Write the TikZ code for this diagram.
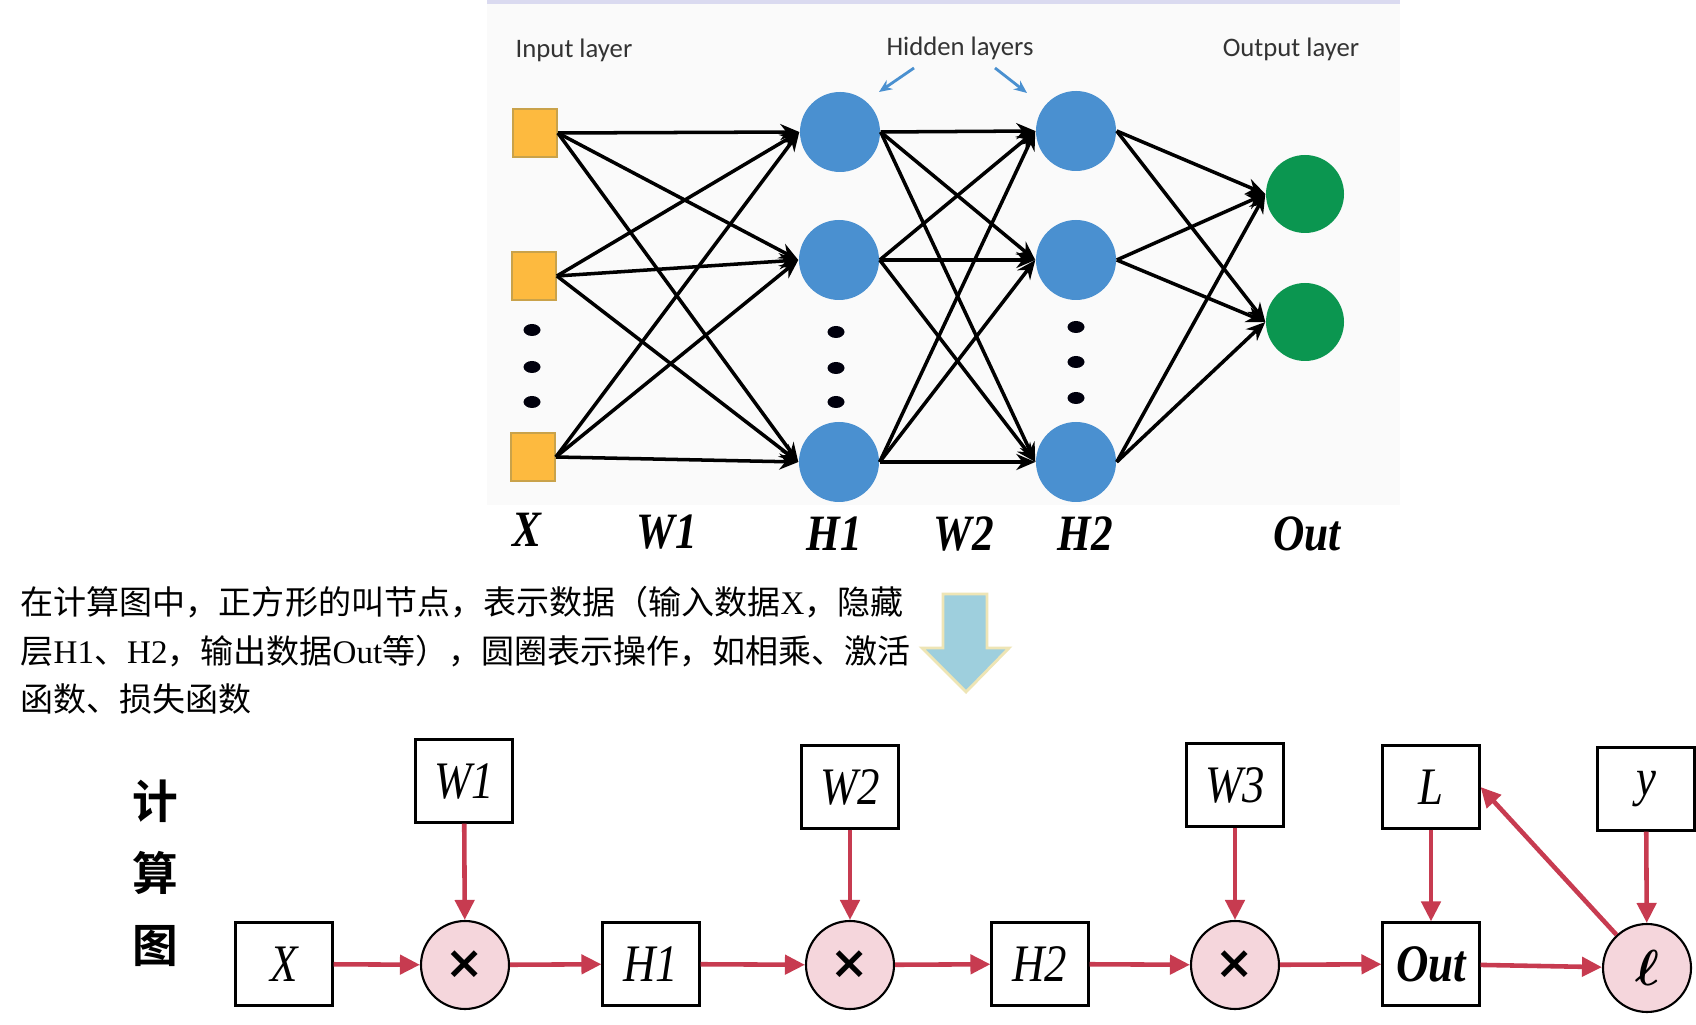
\documentclass[tikz,border=0pt]{standalone}
\usepackage{fontspec}
\usepackage{graphicx}
\usepackage{bm}
\setmainfont{Liberation Serif}
\newfontfamily\cjk{Noto Sans CJK SC}[BoldFont={Noto Sans CJK SC Bold}]
\newfontfamily\calib{Carlito}
\newfontfamily\symb{DejaVu Sans}
\usetikzlibrary{arrows.meta}

\definecolor{sqfill}{RGB}{253,186,63}
\definecolor{sqedge}{RGB}{201,162,74}
\definecolor{hidblue}{RGB}{74,144,208}
\definecolor{outgreen}{RGB}{11,150,80}
\definecolor{flowred}{RGB}{199,59,80}
\definecolor{opfill}{RGB}{245,214,220}
\definecolor{bigarrow}{RGB}{158,207,221}
\definecolor{bigedge}{RGB}{238,229,181}
\definecolor{topline}{RGB}{218,218,240}

\newcommand{\cond}[1]{\scalebox{0.85}[1]{#1}}

\tikzset{
  inp/.style={draw=sqedge, fill=sqfill, line width=0.5pt, minimum width=4.4mm, minimum height=4.8mm, inner sep=0},
  hid/.style={circle, fill=hidblue, minimum size=8mm, inner sep=0},
  outn/.style={circle, fill=outgreen, minimum size=7.8mm, inner sep=0},
  net/.style={line width=1pt, -{Stealth[length=1.9mm,width=1.6mm]}},
  laylbl/.style={font=\calib\fontsize{7.6}{8}\selectfont, text=black!80},
  varlbl/.style={font=\fontsize{14.5}{14.5}\selectfont\bfseries\itshape},
  box/.style={draw, line width=0.6pt, minimum width=9.7mm, minimum height=8.3mm, inner sep=0, font=\fontsize{15}{15}\selectfont\itshape},
  op/.style={circle, draw, line width=0.6pt, fill=opfill, minimum size=8.8mm, inner sep=0},
  flow/.style={draw=flowred, line width=1.3pt, -{Triangle[length=2mm,width=1.9mm]}}
}

\begin{document}
\begin{tikzpicture}[x=0.1mm, y=-0.1mm]

\fill[white] (0,0) rectangle (1696,1025);
\useasboundingbox (0,0) rectangle (1696,1025);

% network picture
\fill[black!2] (487,4) rectangle (1400,505);
\draw[topline, line width=1pt] (487,2) -- (1400,2);

% layer titles
\node[laylbl] (tin) at (574,50) {Input layer};
\node[laylbl] (thid) at (960,48) {Hidden layers};
\node[laylbl] (tout) at (1291,49) {Output layer};
\coordinate (ptl) at (914,68);
\coordinate (ptr) at (995,68);
\coordinate (hl1) at (879,92);
\coordinate (hl2) at (1027,93);
\draw[hidblue, line width=0.8pt, -{Stealth[length=1.3mm,width=1.1mm]}] (ptl) -- (hl1);
\draw[hidblue, line width=0.8pt, -{Stealth[length=1.3mm,width=1.1mm]}] (ptr) -- (hl2);

% input squares
\node[inp] (in1) at (535,133) {};
\node[inp] (in2) at (534,276) {};
\node[inp] (in3) at (533,457) {};

% hidden layers
\node[hid] (ha1) at (840,132) {};
\node[hid] (ha2) at (839,260) {};
\node[hid] (ha3) at (839,462) {};
\node[hid] (hb1) at (1076,131) {};
\node[hid] (hb2) at (1076,260) {};
\node[hid] (hb3) at (1076,462) {};

% output layer
\node[outn] (o1) at (1305,194) {};
\node[outn] (o2) at (1305,322) {};

% dots
\foreach \y in {330,367,402} \fill[black!95!blue] (532,\y) ellipse (0.85mm and 0.6mm);
\foreach \y in {332,368,402} \fill[black!95!blue] (836,\y) ellipse (0.85mm and 0.6mm);
\foreach \y in {327,362,398} \fill[black!95!blue] (1076,\y) ellipse (0.85mm and 0.6mm);

% connections
\foreach \i in {1,2,3}
  \foreach \j in {1,2,3}
    \draw[net] (in\i.east) -- (ha\j.west);
\foreach \i in {1,2,3}
  \foreach \j in {1,2,3}
    \draw[net] (ha\i.east) -- (hb\j.west);
\foreach \i in {1,2,3}
  \foreach \j in {1,2}
    \draw[net] (hb\i.east) -- (o\j.west);

% names under the network
\node[varlbl] (nX) at (527,530) {\cond{X}};
\node[varlbl] (nW1) at (667,532) {\cond{W1}};
\node[varlbl] (nH1) at (834,534) {\cond{H1}};
\node[varlbl] (nW2) at (964,534) {\cond{W2}};
\node[varlbl] (nH2) at (1085,534) {\cond{H2}};
\node[varlbl] (nOut) at (1307,534) {\cond{Out}};

% explanation
\node[anchor=north west, inner sep=0, align=left, font=\cjk\fontsize{9.4}{13.7}\selectfont] (note) at (20,586)
  {在计算图中，正方形的叫节点，表示数据（输入数据{\rmfamily X}，隐藏\\
   层{\rmfamily H1}、{\rmfamily H2}，输出数据{\rmfamily Out}等），圆圈表示操作，如相乘、激活\\
   函数、损失函数};

% big arrow
\draw[bigedge, fill=bigarrow, line width=0.8pt, line join=miter]
  (943,594) -- (987,594) -- (987,648) -- (1009,648) -- (966,692) -- (922,648) -- (943,648) -- cycle;

% computation graph
\node[font=\cjk\bfseries\fontsize{13}{20.5}\selectfont, align=center] (title) at (155,873) {计\\算\\图};

\node[box] (X) at (284,964) {\cond{X}};
\node[box] (W1) at (464,781) {\cond{W1}};
\node[op] (m1) at (465,965) {\symb\bfseries\fontsize{13}{13}\selectfont ×};
\node[box] (H1) at (651,964) {\cond{H1}};
\node[box] (W2) at (850,787) {\cond{W2}};
\node[op] (m2) at (850,965) {\symb\bfseries\fontsize{13}{13}\selectfont ×};
\node[box] (H2) at (1040,964) {\cond{H2}};
\node[box] (W3) at (1235,785) {\cond{W3}};
\node[op] (m3) at (1235,965) {\symb\bfseries\fontsize{13}{13}\selectfont ×};
\node[box] (Out) at (1431,964) {\cond{\bfseries Out}};
\node[box] (L) at (1431,787) {\cond{L}};
\node[box] (y) at (1646,789) {\cond{y}};
\node[op] (ell) at (1647,968) {\fontsize{15}{15}\selectfont$\bm{\ell}$};

\draw[flow] (X) -- (m1);
\draw[flow] (m1) -- (H1);
\draw[flow] (H1) -- (m2);
\draw[flow] (m2) -- (H2);
\draw[flow] (H2) -- (m3);
\draw[flow] (m3) -- (Out);
\draw[flow] (Out) -- (ell);
\draw[flow] (W1) -- (m1);
\draw[flow] (W2) -- (m2);
\draw[flow] (W3) -- (m3);
\draw[flow] (L) -- (Out);
\draw[flow] (y) -- (ell);
\draw[flow] (ell) -- (L.east);

\end{tikzpicture}
\end{document}
